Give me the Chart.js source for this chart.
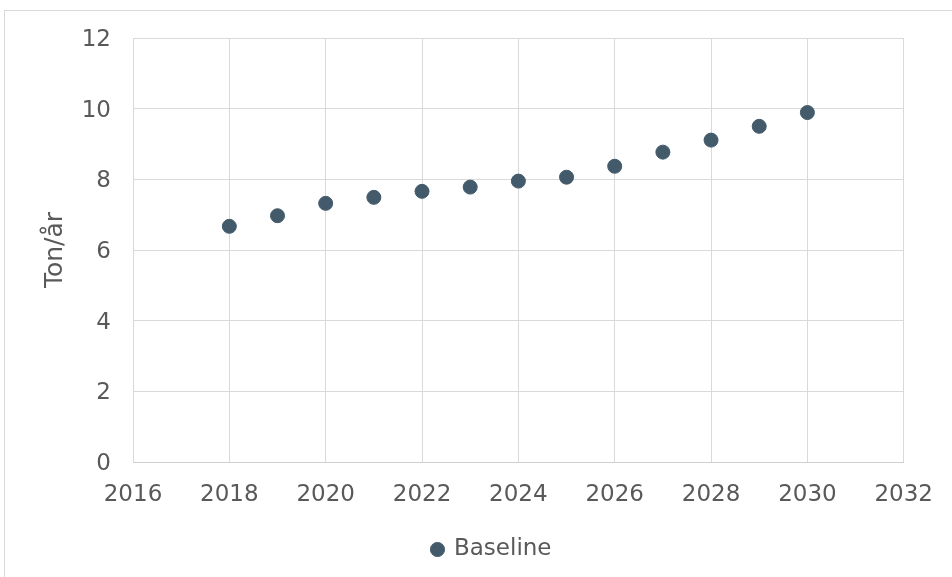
<!DOCTYPE html>
<html>
<head>
<meta charset="utf-8">
<script src="https://cdn.jsdelivr.net/npm/chart.js@4.4.1/dist/chart.umd.min.js"></script>
<style>
  html, body { margin: 0; padding: 0; background: #fff; overflow: hidden; }
  #wrap { width: 952px; height: 577px; position: relative; }
</style>
</head>
<body>
<div id="wrap"><canvas id="insertchart" width="952" height="577"></canvas></div>
<script>
// chart data
var years = [2018, 2019, 2020, 2021, 2022, 2023, 2024, 2025, 2026, 2027, 2028, 2029, 2030];
var baseline = [6.67, 6.97, 7.32, 7.49, 7.66, 7.78, 7.95, 8.06, 8.37, 8.77, 9.11, 9.5, 9.89];
var xRange = [2016, 2032];
var yRange = [0, 12];

var textColor = '#595959';
var gridColor = '#d9d9d9';
var dotColor = '#435a6b';

// light frame around the whole chart, like the excel chart area
var frame = {
  id: 'frame',
  beforeDraw: function (chart) {
    var c = chart.ctx;
    c.save();
    c.strokeStyle = gridColor;
    c.lineWidth = 1;
    c.strokeRect(4.5, 10.5, 1000, 1000);
    c.restore();
  }
};

// legend sits a bit right of the canvas centre in the original
var legendShift = {
  id: 'legendShift',
  afterLayout: function (chart) {
    chart.legend.left += 38;
    chart.legend.right += 38;
  }
};

var ctx = document.getElementById("insertchart").getContext('2d');
var myChart = new Chart(ctx, {
  type: 'scatter',
  data: {
    datasets: [{
      label: 'Baseline',
      data: years.map(function (y, i) { return { x: y, y: baseline[i] }; }),
      backgroundColor: dotColor,
      borderColor: dotColor,
      pointRadius: 7,
      pointHoverRadius: 7,
      pointStyle: 'circle'
    }]
  },
  options: {
    responsive: false,
    animation: false,
    devicePixelRatio: 1,
    layout: { padding: { left: 0, top: 38, right: 44, bottom: 6 } },
    plugins: {
      tooltip: { enabled: false },
      legend: {
        position: 'bottom',
        labels: {
          usePointStyle: true,
          boxWidth: 10,
          boxHeight: 10,
          padding: 10,
          color: textColor,
          font: { family: 'DejaVu Sans', size: 23 }
        }
      }
    },
    scales: {
      x: {
        type: 'linear',
        min: xRange[0],
        max: xRange[1],
        grid: { color: gridColor, drawTicks: false },
        border: { color: '#cfcfcf' },
        ticks: {
          stepSize: 2,
          padding: 19,
          color: textColor,
          font: { family: 'DejaVu Sans', size: 23 },
          callback: function (v) { return String(v); }
        },
        afterFit: function (s) { s.height = 66; }
      },
      y: {
        min: yRange[0],
        max: yRange[1],
        grid: { color: gridColor, drawTicks: false },
        border: { display: false },
        ticks: {
          stepSize: 2,
          padding: 22,
          labelOffset: 2,
          color: textColor,
          font: { family: 'DejaVu Sans', size: 23 }
        },
        title: {
          display: true,
          text: 'Ton/år',
          color: textColor,
          font: { family: 'DejaVu Sans', size: 25 },
          padding: { top: 40, bottom: 0 }
        },
        afterFit: function (s) { s.width = 133; }
      }
    }
  },
  plugins: [frame, legendShift]
});
</script>
</body>
</html>
